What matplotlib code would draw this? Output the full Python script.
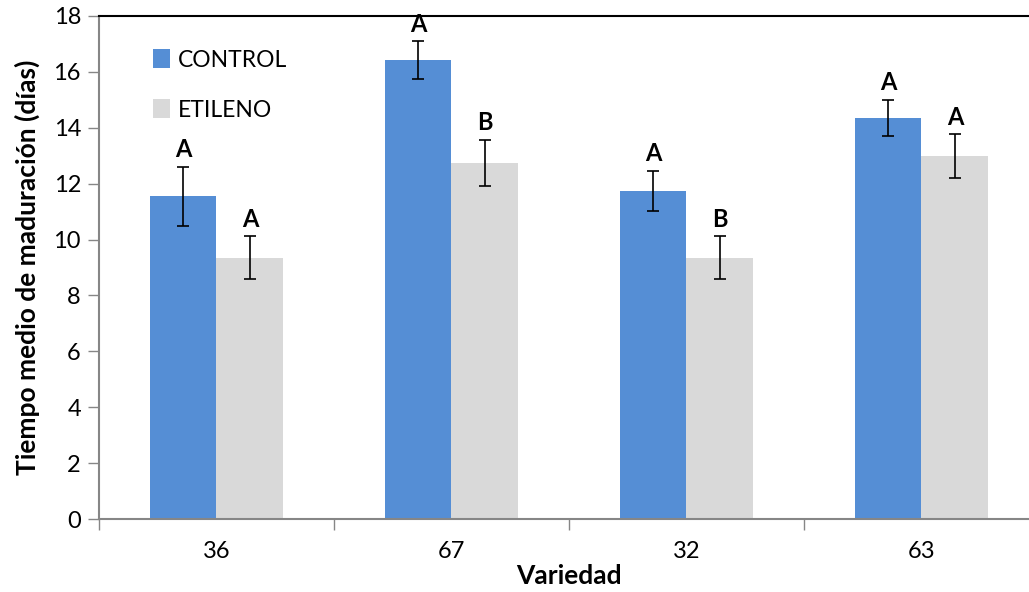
import numpy as np
import matplotlib.pyplot as plt

variedades = ['36', '67', '32', '63']
control = [11.55, 16.42, 11.75, 14.35]
control_err = [1.05, 0.68, 0.72, 0.65]
etileno = [9.35, 12.75, 9.35, 12.98]
etileno_err = [0.77, 0.83, 0.77, 0.78]
letras_control = ['A', 'A', 'A', 'A']
letras_etileno = ['A', 'B', 'B', 'A']

plt.rcParams['font.family'] = ['Lato', 'DejaVu Sans']

fig = plt.figure(figsize=(10.29, 5.92), dpi=100)
# the original chart is cut off at the right edge, so the axes runs past the figure
ax = fig.add_axes([99 / 1029, 1 - 519 / 592, 940 / 1029, 503 / 592])

x = np.arange(len(variedades))
w = 0.285
azul = '#558ED5'
gris = '#D9D9D9'

ax.bar(x - w / 2, control, w, color=azul, label='CONTROL', zorder=2)
ax.bar(x + w / 2, etileno, w, color=gris, label='ETILENO', zorder=2)
ax.errorbar(x - w / 2, control, yerr=control_err, fmt='none', ecolor='black',
            elinewidth=1.2, capsize=4, capthick=1.2, zorder=3)
ax.errorbar(x + w / 2, etileno, yerr=etileno_err, fmt='none', ecolor='black',
            elinewidth=1.2, capsize=4, capthick=1.2, zorder=3)

for i in range(len(variedades)):
    ax.text(x[i] - w / 2, control[i] + control_err[i] + 0.2, letras_control[i],
            ha='center', va='bottom', fontsize=17, fontweight='bold')
    ax.text(x[i] + w / 2, etileno[i] + etileno_err[i] + 0.2, letras_etileno[i],
            ha='center', va='bottom', fontsize=17, fontweight='bold')

ax.set_xlim(-0.5, 3.5)
ax.set_ylim(0, 18)
ax.set_yticks(range(0, 19, 2))
ax.set_xticks(x)
ax.set_xticklabels(variedades)
ax.set_xticks(np.arange(-0.5, 4.0, 1.0), minor=True)
ax.tick_params(axis='x', which='major', length=0, pad=16, labelsize=17)
ax.tick_params(axis='x', which='minor', length=8, color='#868686', width=1)
ax.tick_params(axis='y', length=8, color='#868686', width=1, labelsize=17, pad=5)

for s in ['left', 'bottom']:
    ax.spines[s].set_color('#868686')
    ax.spines[s].set_linewidth(1.5)
ax.spines['top'].set_color('black')
ax.spines['top'].set_linewidth(1.5)
ax.spines['right'].set_visible(False)

ax.set_ylabel('Tiempo medio de maduración (días)', fontsize=19, fontweight='bold', labelpad=10)
ax.set_xlabel('Variedad', fontsize=19, fontweight='bold')
ax.xaxis.set_label_coords(470 / 940, -0.09)

ax.legend(loc='upper left', bbox_to_anchor=(0.036, 0.975), frameon=False, fontsize=16.5,
          labelspacing=1.25, handlelength=0.7, handleheight=0.9, handletextpad=0.35)

fig.savefig('out.png', dpi=100)
